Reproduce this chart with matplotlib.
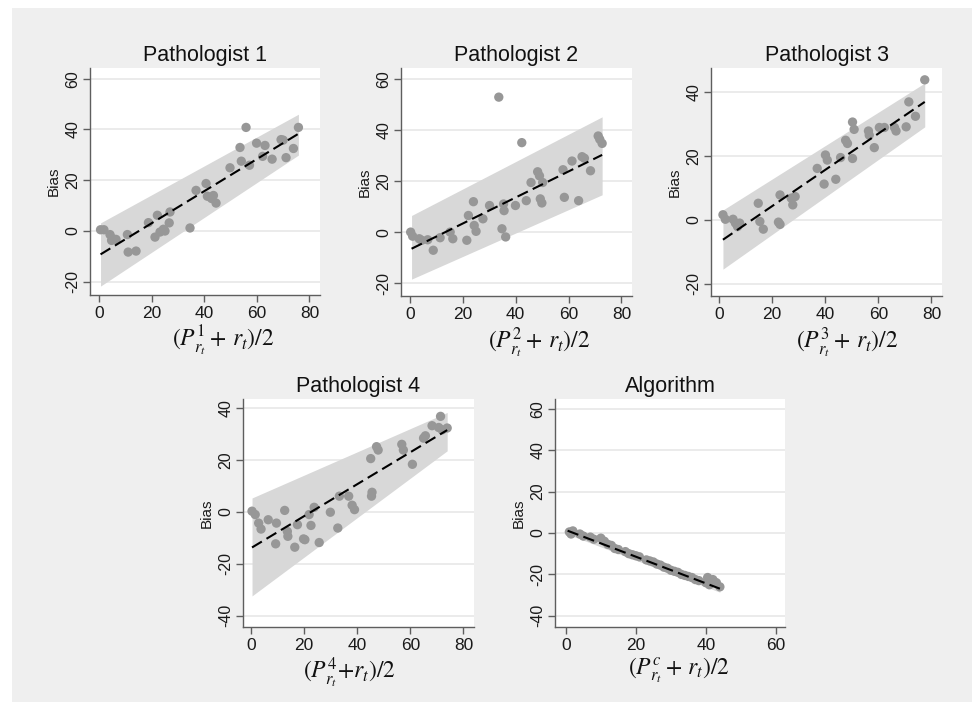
import matplotlib
matplotlib.use("Agg")
import matplotlib.pyplot as plt
from matplotlib.patches import Rectangle
import numpy as np

plt.rcParams['font.family'] = ['Liberation Sans', 'DejaVu Sans']
plt.rcParams['mathtext.fontset'] = 'stix'
plt.rcParams['axes.unicode_minus'] = False

# ---------------- data ----------------
titles = ["Pathologist 1", "Pathologist 2", "Pathologist 3", "Pathologist 4", "Algorithm"]
xlabels = [r"$(P^{1}_{r_t}+\,r_t)/2$", r"$(P^{2}_{r_t}+\,r_t)/2$", r"$(P^{3}_{r_t}+\,r_t)/2$",
           r"$(P^{4}_{r_t}{+}r_t)/2$", r"$(P^{c}_{r_t}+\,r_t)/2$"]

p1_x = [0.6, 1.9, 4.2, 5.2, 6.5, 4.8, 10.8, 11.1, 14.1, 18.8, 21.3, 22.2, 23.2, 24.5, 25.1, 26.7, 27.0,
        34.6, 36.9, 40.7, 41.2, 42.8, 43.5, 44.5, 49.8, 53.6, 54.1, 55.9, 57.2, 59.9, 63.1, 62.2, 65.8,
        69.2, 70.0, 71.1, 73.9, 75.8]
p1_y = [0.5, 0.5, -1.4, -3.0, -3.3, -3.7, -1.4, -8.3, -7.9, 3.3, -2.4, 6.2, -0.4, 0.7, 0.0, 3.2, 7.5,
        1.2, 16.0, 18.7, 13.7, 12.8, 14.0, 11.0, 24.9, 32.9, 27.5, 40.8, 25.9, 34.6, 33.7, 29.4, 28.3,
        36.0, 35.8, 28.9, 32.5, 40.8]

p2_x = [0.25, 1.0, 3.5, 4.4, 6.7, 8.8, 11.4, 15.2, 16.2, 21.5, 22.1, 24.0, 24.3, 25.0, 27.6, 30.1, 33.6,
        34.8, 35.4, 35.6, 36.2, 39.9, 42.3, 44.0, 45.8, 48.3, 49.0, 49.3, 49.9, 50.2, 58.4, 57.9, 61.3,
        63.8, 65.1, 66.0, 68.3, 71.2, 71.8, 72.7]
p2_y = [0.0, -1.6, -2.6, -3.2, -3.0, -7.1, -2.2, 0.0, -2.6, -3.2, 6.5, 11.9, 2.6, 0.3, 5.2, 10.4, 52.8,
        1.3, 11.0, 8.4, -1.9, 10.4, 35.0, 12.3, 19.4, 23.6, 22.0, 13.0, 11.4, 19.4, 13.6, 24.4, 27.8,
        12.3, 29.5, 28.9, 24.0, 37.6, 36.3, 34.7]

p3_x = [1.5, 2.4, 5.3, 6.2, 7.0, 7.8, 14.8, 15.4, 16.7, 22.4, 23.0, 23.0, 27.2, 27.8, 28.7, 37.0, 39.6,
        40.1, 40.8, 44.0, 45.8, 47.7, 48.4, 50.3, 50.9, 50.3, 56.3, 56.6, 58.5, 60.4, 62.3, 66.1, 66.7,
        70.5, 71.5, 74.0, 77.5]
p3_y = [1.6, 0.2, 0.2, -1.0, -2.1, -1.0, 5.2, -0.5, -2.9, -0.7, -1.4, 7.8, 6.8, 4.7, 7.3, 16.1, 11.2,
        20.3, 18.7, 12.7, 19.5, 24.9, 23.9, 30.6, 28.3, 19.2, 27.8, 26.5, 22.6, 28.9, 28.9, 28.9, 27.8,
        29.1, 36.9, 32.4, 43.8]

p4_x = [0.4, 1.6, 2.9, 3.8, 6.5, 9.6, 9.3, 12.7, 13.7, 13.9, 16.5, 17.5, 19.8, 20.3, 21.9, 22.6, 23.8,
        25.7, 29.9, 32.7, 33.3, 36.8, 38.1, 39.0, 45.4, 45.6, 45.1, 47.3, 47.9, 56.8, 57.4, 60.8, 65.0,
        65.7, 68.2, 71.4, 70.7, 72.0, 73.9]
p4_y = [0.3, -1.0, -4.3, -6.6, -3.0, -4.3, -12.3, 0.6, -7.5, -9.4, -13.6, -4.9, -10.4, -10.7, -1.0,
        -5.2, 1.8, -11.8, -0.1, -6.2, 6.1, 6.1, 2.6, 0.9, 6.1, 7.6, 20.6, 25.2, 23.9, 26.1, 23.9, 18.4,
        28.5, 29.4, 33.3, 36.9, 32.6, 31.7, 32.4]

alg_x = [1.0, 1.5, 2.0, 4.0, 5.0, 7.0, 8.0, 10.0, 11.0, 12.0, 13.0, 14.0, 15.0, 17.0, 18.0, 19.0, 20.0,
         21.0, 23.0, 24.0, 25.0, 26.0, 27.0, 28.0, 29.0, 30.0, 31.0, 32.0, 33.0, 34.0, 35.0, 36.0, 37.0,
         38.0, 40.0, 40.5, 41.0, 42.0, 43.0, 44.0]
alg_y = [0.5, -0.5, 1.0, -0.5, -1.5, -2.0, -3.0, -2.5, -4.0, -5.5, -6.0, -7.5, -8.0, -9.0, -10.0, -10.5,
         -11.0, -11.5, -13.0, -13.5, -14.0, -15.0, -15.5, -16.5, -17.0, -18.0, -18.5, -19.0, -20.0, -20.5,
         -21.0, -21.5, -22.5, -23.0, -24.0, -21.5, -25.0, -22.5, -24.0, -26.0]

# regression line and limits band endpoints: [x_start, x_end]
fit_x = [[0.6, 75.8], [0.6, 72.7], [1.5, 77.5], [0.4, 73.9], [0.5, 44.0]]
fit_y = [[-9.2, 38.3], [-6.5, 30.2], [-6.2, 36.9], [-13.7, 31.6], [1.1, -26.9]]
band_hi = [[3.2, 46.0], [6.5, 45.1], [3.1, 42.8], [5.4, 38.4], [2.6, -25.0]]
band_lo = [[-21.7, 29.9], [-18.4, 14.6], [-15.4, 29.1], [-32.4, 23.6], [-0.6, -28.6]]

xs = [p1_x, p2_x, p3_x, p4_x, alg_x]
ys = [p1_y, p2_y, p3_y, p4_y, alg_y]

xticks = [[0, 20, 40, 60, 80]] * 4 + [[0, 20, 40, 60]]
yticks = [[-20, 0, 20, 40, 60], [-20, 0, 20, 40, 60], [-20, 0, 20, 40],
          [-40, -20, 0, 20, 40], [-40, -20, 0, 20, 40, 60]]
xlims = [(-3.4, 84), (-3.4, 84), (-3.0, 84), (-3.0, 84), (-3.1, 62.6)]
ylims = [(-25.2, 64.2), (-25.0, 64.2), (-23.8, 47.5), (-44.4, 43.6), (-45.4, 64.7)]

# ---------------- layout (pixels) ----------------
W, H = 972, 702
boxes = [(90, 320, 68, 295), (401, 632, 68, 296), (711, 942, 68, 296),
         (243, 474, 399, 627), (555, 785, 399, 627)]
xlab_pos = [(0.578, -0.125), (0.60, -0.13), (0.59, -0.13), (0.46, -0.125), (0.54, -0.125)]

fig = plt.figure(figsize=(W / 100, H / 100), dpi=100)
fig.patch.set_facecolor('white')
fig.patches.append(Rectangle((12 / W, 0), 1 - 12 / W, 1 - 8 / H, transform=fig.transFigure,
                             facecolor='#efefef', edgecolor='none', zorder=-10))

spine_c = '#5e5e5e'
for i in range(5):
    l, r, t, b = boxes[i]
    ax = fig.add_axes([l / W, 1 - b / H, (r - l) / W, (b - t) / H])
    ax.set_facecolor('white')
    for s in ['top', 'right']:
        ax.spines[s].set_visible(False)
    for s in ['left', 'bottom']:
        ax.spines[s].set_color(spine_c)
        ax.spines[s].set_linewidth(1.0)
    ax.set_xlim(*xlims[i])
    ax.set_ylim(*ylims[i])
    ax.set_xticks(xticks[i])
    ax.set_yticks(yticks[i])
    ax.tick_params(axis='both', direction='out', length=5, width=1.0, color=spine_c, labelcolor='#1a1a1a')
    ax.tick_params(axis='x', labelsize=12.5, pad=3)
    ax.tick_params(axis='y', labelsize=11.5, pad=2)
    for lab in ax.get_yticklabels():
        lab.set_rotation(90)
        lab.set_va('center')
    ax.yaxis.grid(True, color='#e9e9e9', linewidth=1.3, zorder=0)
    ax.set_axisbelow(True)

    ax.fill_between(fit_x[i], band_lo[i], band_hi[i], color='#d8d8d8', linewidth=0, zorder=1)
    ax.scatter(xs[i], ys[i], s=45, color='#979797', edgecolors='none', zorder=2)
    ln, = ax.plot(fit_x[i], fit_y[i], color='black', linewidth=1.5, zorder=3)
    ln.set_dashes([5.5, 2.6])

    ax.set_title(titles[i], fontsize=15.5, pad=5, color='#111111')
    ax.set_ylabel('Bias', fontsize=11, labelpad=3, color='#1a1a1a')
    ax.set_xlabel(xlabels[i], fontsize=17, color='#111111')
    ax.xaxis.set_label_coords(*xlab_pos[i])

fig.savefig('out.png', dpi=100, facecolor=fig.get_facecolor())
